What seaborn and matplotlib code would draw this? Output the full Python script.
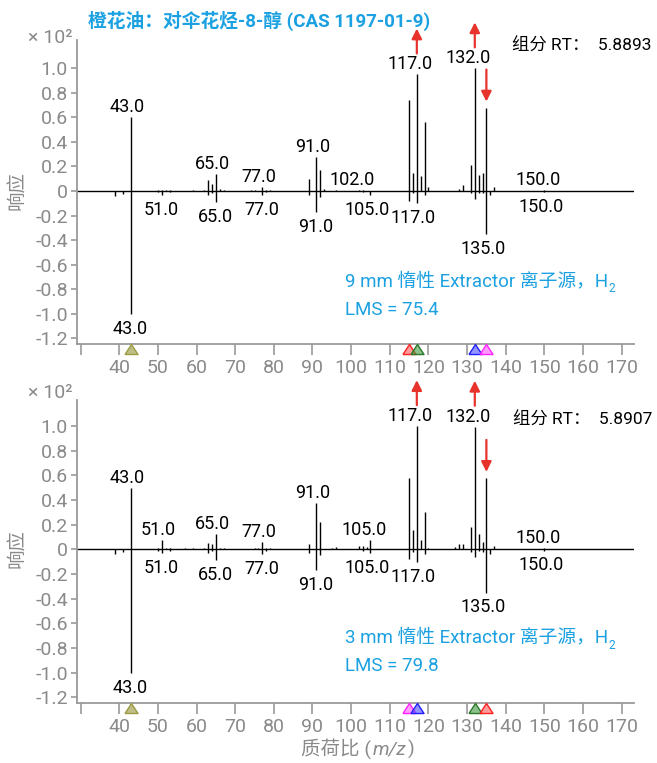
import numpy as np
import pandas as pd
import matplotlib
matplotlib.use("Agg")
import matplotlib.pyplot as plt
import seaborn as sns
from matplotlib.markers import MarkerStyle
from matplotlib.transforms import ScaledTranslation, blended_transform_factory

# ---------------- data ----------------
title_text = "橙花油：对伞花烃-8-醇 (CAS 1197-01-9)"
rt_labels = ["组分 RT：  5.8893", "组分 RT：  5.8907"]
source_labels = ["9 mm 惰性 Extractor 离子源，H", "3 mm 惰性 Extractor 离子源，H"]
lms_labels = ["LMS = 75.4", "LMS = 79.8"]
y_label = "响应"
scale_label = "× 10²"

top_mz = [43, 50, 51, 52, 53, 59, 62, 63, 64, 65, 66, 67, 74, 75, 77, 78, 79,
          89, 91, 92, 93, 96, 102, 103, 115, 116, 117, 118, 119, 120,
          128, 129, 131, 132, 133, 134, 135, 137, 150]
top_int = [0.60, 0.008, 0.012, 0.008, 0.010, 0.010, 0.010, 0.090, 0.055, 0.140, 0.015, 0.010, 0.005, 0.008, 0.030, 0.012, 0.010,
           0.100, 0.275, 0.170, 0.015, 0.010, 0.012, 0.008, 0.740, 0.150, 0.950, 0.120, 0.565, 0.035,
           0.020, 0.045, 0.210, 1.000, 0.130, 0.150, 0.680, 0.030, 0.010]

bottom_mz = [43, 50, 51, 52, 53, 57, 59, 62, 63, 64, 65, 66, 67, 75, 76, 77, 78, 79,
             89, 91, 92, 95, 96, 102, 103, 104, 105, 115, 116, 117, 118, 119, 120,
             127, 128, 129, 131, 132, 133, 134, 135, 137, 150]
bottom_int = [0.50, 0.010, 0.073, 0.010, 0.008, 0.008, 0.008, 0.010, 0.050, 0.040, 0.125, 0.010, 0.008, 0.008, 0.010, 0.057, 0.015, 0.010,
              0.040, 0.373, 0.220, 0.015, 0.020, 0.027, 0.027, 0.022, 0.080, 0.576, 0.157, 1.000, 0.080, 0.300, 0.014,
              0.020, 0.040, 0.040, 0.180, 0.995, 0.125, 0.060, 0.580, 0.027, 0.010]

lib_mz = [39, 41, 43, 50, 51, 53, 63, 64, 65, 77, 78, 89, 91, 92, 103, 105,
          115, 116, 117, 119, 131, 132, 133, 134, 135, 136, 150]
lib_int = [0.040, 0.025, 1.000, 0.010, 0.030, 0.010, 0.030, 0.015, 0.090, 0.035, 0.010, 0.030, 0.170, 0.045, 0.010, 0.030,
           0.080, 0.020, 0.100, 0.035, 0.020, 0.065, 0.015, 0.020, 0.350, 0.035, 0.010]

top_labels_up = [43, 65, 77, 91, 102, 117, 132, 150]
bottom_labels_up = [43, 51, 65, 77, 91, 105, 117, 132, 150]
labels_down = [43, 51, 65, 77, 91, 105, 117, 135, 150]

arrow_mz = [117, 132, 135]
arrow_dir = ["up", "up", "down"]

top_marker_mz = [43, 115, 117, 132, 135]
top_marker_colors = ["olive", "red", "green", "blue", "magenta"]
bottom_marker_mz = [43, 115, 117, 132, 135]
bottom_marker_colors = ["olive", "magenta", "blue", "green", "red"]

x_ticks = list(range(30, 171, 10))
x_ticklabels = [""] + [str(v) for v in range(40, 171, 10)]
y_ticks = [-1.2, -1.0, -0.8, -0.6, -0.4, -0.2, 0, 0.2, 0.4, 0.6, 0.8, 1.0]
y_ticklabels = ["-1.2", "-1.0", "-0.8", "-0.6", "-0.4", "-0.2", "0", "0.2", "0.4", "0.6", "0.8", "1.0"]

# ---------------- style ----------------
sns.set_theme(style="white")
plt.rcParams["font.family"] = ["Roboto", "Noto Sans CJK SC", "DejaVu Sans"]

BLUE = "#1ba1e2"
GRAY = "#8a8a8a"
SPINE = "#9a9a9a"
RED = "#e8322c"
marker_palette = {
    "olive": ((0.66, 0.66, 0.36, 0.75), "#9c9c45"),
    "red": ((1.0, 0.35, 0.35, 0.6), "#ff2020"),
    "green": ((0.25, 0.6, 0.25, 0.6), "#2a7a2a"),
    "blue": ((0.3, 0.3, 1.0, 0.6), "#2020ff"),
    "magenta": ((1.0, 0.35, 1.0, 0.6), "#ff20ff"),
}

W, H = 657, 763
fig = plt.figure(figsize=(W / 100, H / 100), dpi=100)


def px(x, y):
    return x / W, 1 - y / H


ax1 = fig.add_axes([77 / W, 1 - 344 / H, (634 - 77) / W, (344 - 40) / H])
ax2 = fig.add_axes([77 / W, 1 - 703 / H, (634 - 77) / W, (703 - 400) / H])
ylims = [(-1.247, 1.231), (-1.246, 1.212)]
xlim = (29.06, 173.2)

tri = MarkerStyle([(-1, -0.77), (1, -0.77), (0, 0.77), (-1, -0.77)])

LABEL_FS = 13


def draw_panel(ax, mz, inten, up_labels, markers_mz, markers_col, ylim):
    ax.axhline(0, color="black", lw=1.0, zorder=2)
    ax.vlines(mz, 0, inten, colors="black", lw=1.0, zorder=3)
    ax.vlines(lib_mz, 0, [-v for v in lib_int], colors="black", lw=1.0, zorder=3)

    look_up = dict(zip(mz, inten))
    for m in up_labels:
        txt = f"{m:.1f}"
        dx = -2.5 if len(txt) == 4 else -4.7
        ax.annotate(txt, xy=(m, look_up[m]), xytext=(dx, 3.6), textcoords="offset points",
                    ha="center", va="baseline", fontsize=LABEL_FS, color="black", annotation_clip=False)
    look_dn = dict(zip(lib_mz, lib_int))
    for m in labels_down:
        txt = f"{m:.1f}"
        dx = -0.5 if len(txt) == 4 else -2.5
        ax.annotate(txt, xy=(m, -look_dn[m]), xytext=(dx, -14.3), textcoords="offset points",
                    ha="center", va="baseline", fontsize=LABEL_FS, color="black", annotation_clip=False)

    for m, d in zip(arrow_mz, arrow_dir):
        v = look_up[m]
        if d == "up":
            tail, head = 21, 46
        else:
            tail, head = 38, 6
        tr_head = ax.transData + ScaledTranslation(0, head / 100, fig.dpi_scale_trans)
        tr_tail = ax.transData + ScaledTranslation(0, tail / 100, fig.dpi_scale_trans)
        ax.annotate("", xy=(m, v), xycoords=tr_head, xytext=(m, v), textcoords=tr_tail,
                    arrowprops=dict(arrowstyle="-|>", color=RED, lw=1.6, mutation_scale=15,
                                    shrinkA=0, shrinkB=0),
                    annotation_clip=False)

    trans = blended_transform_factory(ax.transData, ax.transAxes) + \
        ScaledTranslation(0, -5 / 100, fig.dpi_scale_trans)
    for m, c in zip(markers_mz, markers_col):
        fc, ec = marker_palette[c]
        sns.scatterplot(x=[m], y=[0], ax=ax, marker=tri, s=88, facecolor=fc, edgecolor=ec,
                        linewidth=1.0, transform=trans, clip_on=False, zorder=5, legend=False)

    ax.set_xlim(*xlim)
    ax.set_ylim(*ylim)
    ax.set_xticks(x_ticks)
    ax.set_xticklabels(x_ticklabels)
    ax.set_yticks(y_ticks)
    ax.set_yticklabels(y_ticklabels)
    ax.set_xlabel("")
    ax.set_ylabel("")
    for s in ["top", "right"]:
        ax.spines[s].set_visible(False)
    for s in ["left", "bottom"]:
        ax.spines[s].set_color(SPINE)
        ax.spines[s].set_linewidth(1.3)
    ax.tick_params(axis="y", length=4, width=1.2, color=SPINE, pad=2.5,
                   labelsize=14, labelcolor=GRAY, left=True)
    ax.tick_params(axis="x", length=7.7, width=1.2, color=SPINE, pad=3,
                   labelsize=14, labelcolor=GRAY, bottom=True)
    ax.set_facecolor("white")


draw_panel(ax1, top_mz, top_int, top_labels_up, top_marker_mz, top_marker_colors, ylims[0])
draw_panel(ax2, bottom_mz, bottom_int, bottom_labels_up, bottom_marker_mz, bottom_marker_colors, ylims[1])

renderer = fig.canvas.get_renderer()


def rich(pieces, x, y, ha="left"):
    arts = []
    cur = x
    for txt, kw, dy, gap in pieces:
        t = fig.text(*px(cur, y + dy), txt, ha="left", va="baseline", **kw)
        w = t.get_window_extent(renderer=renderer).width
        cur += w + gap
        arts.append(t)
    if ha == "center":
        shift = (cur - x) / 2
        for t in arts:
            x0, _ = t.get_position()
            t.set_x(x0 - shift / W)
    return arts


# title
fig.text(*px(88, 26.7), title_text, color=BLUE, fontsize=13.5, fontweight="bold",
         ha="left", va="baseline")

# per-panel texts
for i, (base_y0, rt_y, src_y, lms_y, ylab_y) in enumerate(
        [(43.3, 51, 286, 315, 190), (398.3, 425, 642.7, 670.7, 548)]):
    fig.text(*px(72, base_y0), scale_label, color=GRAY, fontsize=14, ha="right", va="baseline")
    fig.text(*px(652, rt_y), rt_labels[i], color="black", fontsize=12.5, ha="right", va="baseline")
    rich([(source_labels[i], dict(color=BLUE, fontsize=13.5), 0, 0.5),
          ("2", dict(color=BLUE, fontsize=8.5), 6.5, 0)], 345, src_y)
    fig.text(*px(345, lms_y), lms_labels[i], color=BLUE, fontsize=13.5, ha="left", va="baseline")
    fig.text(*px(18, ylab_y), y_label, color=GRAY, fontsize=14, rotation=90,
             ha="center", va="center")

# x axis label
rich([("质荷比 (", dict(color=GRAY, fontsize=14), 0, 1.5),
      ("m/z", dict(color=GRAY, fontsize=14, style="italic"), 0, 1.5),
      (")", dict(color=GRAY, fontsize=14), 0, 0)], 358, 755, ha="center")

fig.savefig("out.png", dpi=100, facecolor="white")
